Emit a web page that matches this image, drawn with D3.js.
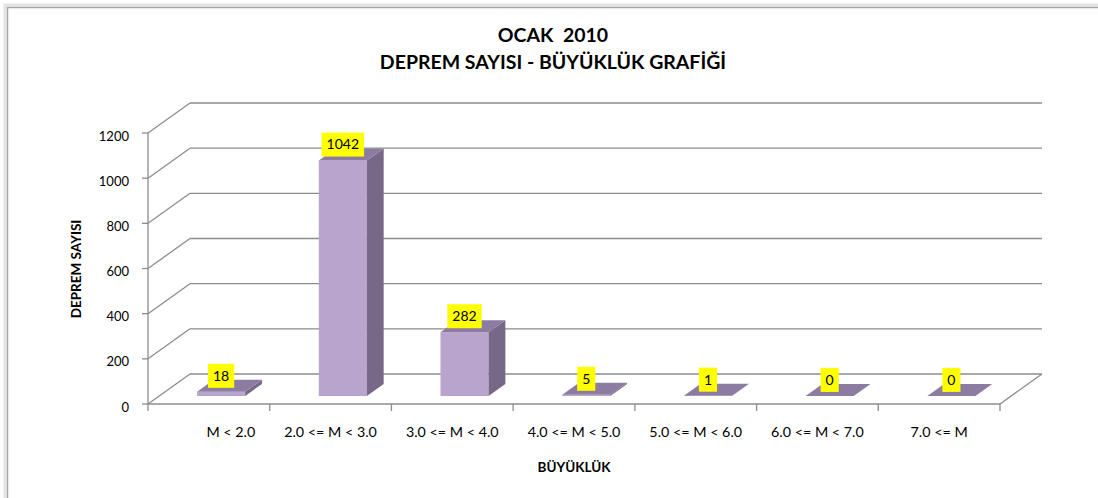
<!DOCTYPE html>
<html>
<head>
<meta charset="utf-8">
<script src="https://cdn.jsdelivr.net/npm/d3@7"></script>
<style>
  body { margin: 0; background: #fff; }
  svg text { font-family: Lato, "Open Sans", sans-serif; fill: #000; white-space: pre; }
</style>
</head>
<body>
<div id="chart"></div>
<script>
// chart data
var categories = ["M < 2.0", "2.0 <= M < 3.0", "3.0 <= M < 4.0", "4.0 <= M < 5.0",
                  "5.0 <= M < 6.0", "6.0 <= M < 7.0", "7.0 <= M"];
var counts = [18, 1042, 282, 5, 1, 0, 0];
var yTicks = [0, 200, 400, 600, 800, 1000, 1200];
var titleLines = ["OCAK  2010", "DEPREM SAYISI - BÜYÜKLÜK GRAFİĞİ"];

var width = 1098, height = 498;

// front plane + depth offset of the 3d box
var DX = 42, DY = 30;
var zFront = 0.27, zBack = 0.67;

var svg = d3.select("#chart").append("svg")
  .attr("width", width)
  .attr("height", height);

// outer frame with a soft shadow
svg.append("rect")
  .attr("x", 5).attr("y", 5).attr("width", width).attr("height", height)
  .attr("fill", "none").attr("stroke", "#e4e4e4").attr("stroke-width", 3);
svg.append("rect")
  .attr("x", 7.5).attr("y", 7.5).attr("width", width).attr("height", height)
  .attr("fill", "#fff").attr("stroke", "#a6a6a6").attr("stroke-width", 1.5);

var x = d3.scaleBand().domain(categories).range([148, 1000]).padding(0);
var y = d3.scaleLinear().domain([0, 1200]).range([404, 133]);

function px(xf, z) { return xf + z * DX; }
function py(yf, z) { return yf - z * DY; }
function pt(xf, v, z) { return [px(xf, z), py(y(v), z)]; }

var grid = svg.append("g")
  .attr("fill", "none")
  .attr("stroke", "#8c8c8c")
  .attr("stroke-width", 1.3);

// back wall gridlines and left wall diagonals
yTicks.forEach(function(t) {
  grid.append("line")
    .attr("x1", px(x.range()[0], 1)).attr("y1", py(y(t), 1))
    .attr("x2", px(x.range()[1], 1)).attr("y2", py(y(t), 1));
  grid.append("line")
    .attr("x1", px(x.range()[0], 0)).attr("y1", y(t))
    .attr("x2", px(x.range()[0], 1)).attr("y2", py(y(t), 1));
  grid.append("line")
    .attr("x1", x.range()[0] - 6).attr("y1", y(t))
    .attr("x2", x.range()[0]).attr("y2", y(t));
});

// front-left edge, floor front and right floor edge
grid.append("line")
  .attr("x1", x.range()[0]).attr("y1", y(0))
  .attr("x2", x.range()[0]).attr("y2", y(1200));
grid.append("line")
  .attr("x1", x.range()[0]).attr("y1", y(0))
  .attr("x2", x.range()[1]).attr("y2", y(0));
grid.append("line")
  .attr("x1", x.range()[1]).attr("y1", y(0))
  .attr("x2", px(x.range()[1], 1)).attr("y2", py(y(0), 1));

// category tick marks
var bounds = categories.map(function(c) { return x(c); }).concat([x.range()[1]]);
bounds.forEach(function(b) {
  grid.append("line")
    .attr("x1", b).attr("y1", y(0))
    .attr("x2", b).attr("y2", y(0) + 7);
});

// y tick labels
svg.append("g").selectAll("text")
  .data(yTicks)
  .enter().append("text")
  .attr("x", 129)
  .attr("y", function(d) { return y(d) + 3; })
  .attr("dy", "0.35em")
  .attr("text-anchor", "end")
  .style("font-size", "13px")
  .text(function(d) { return d; });

// category labels
svg.append("g").selectAll("text")
  .data(categories)
  .enter().append("text")
  .attr("x", function(d, i) { return x(d) + x.bandwidth() / 2 + (i == 0 ? 22 : 0); })
  .attr("y", 432)
  .attr("dy", "0.35em")
  .attr("text-anchor", "middle")
  .style("font-size", "14.3px")
  .text(function(d) { return d; });

// bars
var bw = x.bandwidth();
var bars = svg.append("g").selectAll("g")
  .data(counts)
  .enter().append("g");

function x0(i) { return x(categories[i]) + bw * 0.31; }
function x1(i) { return x(categories[i]) + bw * 0.705; }

bars.append("path")
  .attr("fill", "#b8a4cd")
  .attr("d", function(d, i) {
    return "M" + [pt(x0(i), 0, zFront), pt(x1(i), 0, zFront), pt(x1(i), d, zFront), pt(x0(i), d, zFront)].join("L") + "Z";
  });
bars.append("path")
  .attr("fill", "#766886")
  .attr("d", function(d, i) {
    return "M" + [pt(x1(i), 0, zFront), pt(x1(i), 0, zBack), pt(x1(i), d, zBack), pt(x1(i), d, zFront)].join("L") + "Z";
  });
bars.append("path")
  .attr("fill", "#8d7ca2")
  .attr("d", function(d, i) {
    return "M" + [pt(x0(i), d, zFront), pt(x1(i), d, zFront), pt(x1(i), d, zBack), pt(x0(i), d, zBack)].join("L") + "Z";
  });

// value labels on yellow boxes
var labels = svg.append("g").selectAll("g")
  .data(counts)
  .enter().append("g");

labels.each(function(d, i) {
  var g = d3.select(this);
  var cx = px((x0(i) + x1(i)) / 2, zFront);
  var bottom = py(y(d), zFront) - 4;
  var rect = g.append("rect").attr("fill", "#ffff00");
  var txt = g.append("text")
    .attr("x", cx)
    .attr("y", bottom - 12)
    .attr("dy", "0.35em")
    .attr("text-anchor", "middle")
    .style("font-size", "14px")
    .text(d);
  var w = txt.node().getComputedTextLength() + 10;
  rect.attr("x", cx - w / 2).attr("y", bottom - 24)
    .attr("width", w).attr("height", 24);
});

// titles
svg.append("g").selectAll("text")
  .data(titleLines)
  .enter().append("text")
  .attr("x", 553)
  .attr("y", function(d, i) { return 35 + i * 27; })
  .attr("dy", "0.35em")
  .attr("text-anchor", "middle")
  .style("font-size", "19.5px")
  .style("font-weight", "bold")
  .text(function(d) { return d; });

svg.append("text")
  .attr("x", 574)
  .attr("y", 467)
  .attr("dy", "0.35em")
  .attr("text-anchor", "middle")
  .style("font-size", "13.5px")
  .style("font-weight", "bold")
  .text("BÜYÜKLÜK");

svg.append("text")
  .attr("transform", "translate(76,269) rotate(-90)")
  .attr("dy", "0.35em")
  .attr("text-anchor", "middle")
  .style("font-size", "13.5px")
  .style("font-weight", "bold")
  .text("DEPREM SAYISI");
</script>
</body>
</html>
